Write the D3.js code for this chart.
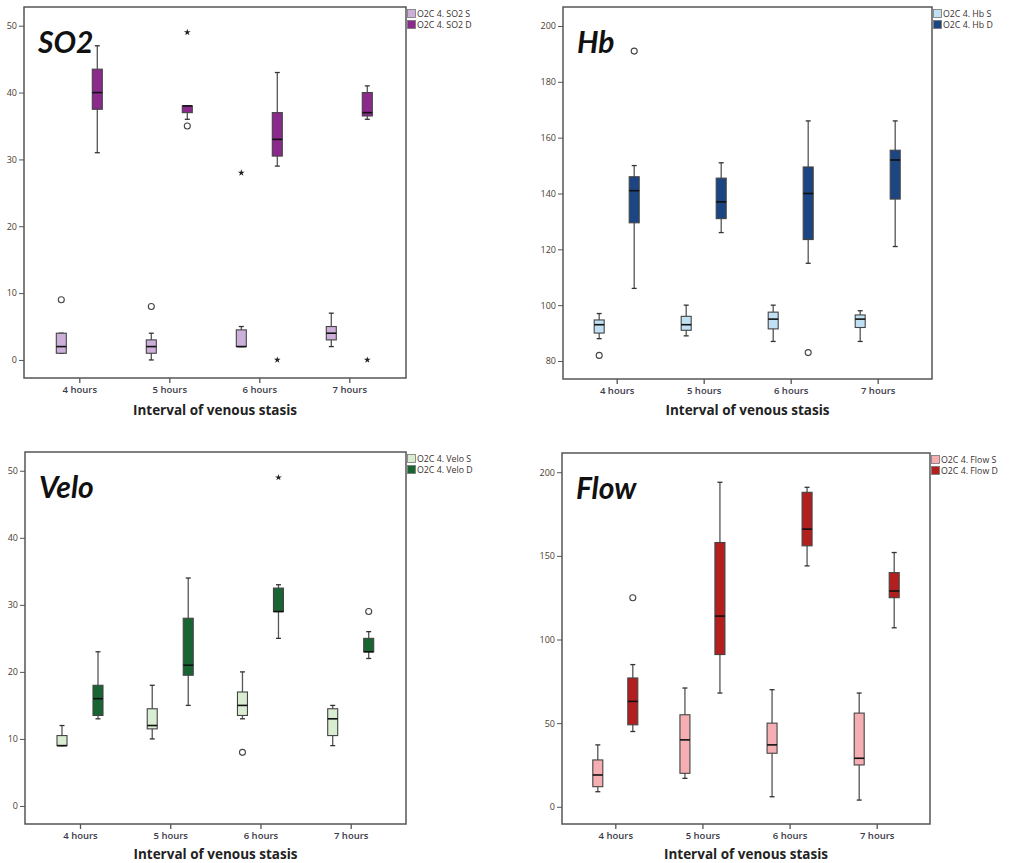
<!DOCTYPE html>
<html>
<head>
<meta charset="utf-8">
<script src="https://cdn.jsdelivr.net/npm/d3@7"></script>
<style>
  body { margin: 0; background: #fff; }
  text { font-family: "Open Sans", "DejaVu Sans", sans-serif; }
</style>
</head>
<body>
<div id="mainwindow"></div>
<script>
// boxplot stats per hour: [whisker low, q1, median, q3, whisker high]
const hours = ["4 hours", "5 hours", "6 hours", "7 hours"];

const so2S = [[1, 1, 2, 4, 4], [0, 1, 2, 3, 4], [2, 2, 2, 4.5, 5], [2, 3, 4, 5, 7]];
const so2D = [[31, 37.5, 40, 43.5, 47], [36, 37, 38, 38, 38], [29, 30.5, 33, 37, 43], [36, 36.5, 37, 40, 41]];
const so2Out = [["4 hours", "S", 9, "o"], ["5 hours", "S", 8, "o"], ["6 hours", "S", 28, "*"],
  ["5 hours", "D", 35, "o"], ["5 hours", "D", 49, "*"], ["6 hours", "D", 0, "*"], ["7 hours", "D", 0, "*"]];

const hbS = [[88, 90, 93, 94.7, 97], [89, 91, 93, 96, 100], [87, 91.5, 95, 97.5, 100], [87, 92, 95, 96.5, 98]];
const hbD = [[106, 129.5, 141, 146, 150], [126, 131, 137, 145.5, 151], [115, 123.5, 140, 149.5, 166], [121, 138, 152, 155.5, 166]];
const hbOut = [["4 hours", "S", 82, "o"], ["4 hours", "D", 191, "o"], ["6 hours", "D", 83, "o"]];

const veloS = [[9, 9, 9, 10.5, 12], [10, 11.5, 12, 14.5, 18], [13, 13.5, 15, 17, 20], [9, 10.5, 13, 14.5, 15]];
const veloD = [[13, 13.5, 16, 18, 23], [15, 19.5, 21, 28, 34], [25, 29, 29, 32.5, 33], [22, 23, 23, 25, 26]];
const veloOut = [["6 hours", "S", 8, "o"], ["6 hours", "D", 49, "*"], ["7 hours", "D", 29, "o"]];

const flowS = [[9, 12, 19, 28, 37], [17, 20, 40, 55, 71], [6, 32, 37, 50, 70], [4, 25, 29, 56, 68]];
const flowD = [[45, 49, 63, 77, 85], [68, 91, 114, 158, 194], [144, 156, 166, 188, 191], [107, 125, 129, 140, 152]];
const flowOut = [["4 hours", "D", 125, "o"]];

const so2Ticks = [0, 10, 20, 30, 40, 50];
const hbTicks = [80, 100, 120, 140, 160, 180, 200];
const veloTicks = [0, 10, 20, 30, 40, 50];
const flowTicks = [0, 50, 100, 150, 200];

const xTitle = "Interval of venous stasis";

// panel layout (frame in px, y domain = values at frame bottom/top)
const panels = [
  { name: "SO2", S: so2S, D: so2D, out: so2Out, ticks: so2Ticks, yDom: [-2.7, 52.8],
    frame: [24, 406, 7, 378], xr: [79.3, 349.3], off: 18, titleDy: 37,
    legend: ["O2C 4. SO2 S", "O2C 4. SO2 D"], colors: ["#cdb0d9", "#8b2a8c"] },
  { name: "Hb", S: hbS, D: hbD, out: hbOut, ticks: hbTicks, yDom: [73.55, 206.8],
    frame: [563, 932, 7, 379], xr: [616.7, 877.7], off: 17.5, titleDy: 36,
    legend: ["O2C 4. Hb S", "O2C 4. Hb D"], colors: ["#c2e0f4", "#1b4683"] },
  { name: "Velo", S: veloS, D: veloD, out: veloOut, ticks: veloTicks, yDom: [-2.69, 52.8],
    frame: [25, 406, 452, 824], xr: [80, 350.7], off: 18, titleDy: 35,
    legend: ["O2C 4. Velo S", "O2C 4. Velo D"], colors: ["#d9edd2", "#196433"] },
  { name: "Flow", S: flowS, D: flowD, out: flowOut, ticks: flowTicks, yDom: [-10.3, 211.5],
    frame: [562, 930, 453, 824], xr: [615.3, 876.7], off: 17.5, titleDy: 35,
    legend: ["O2C 4. Flow S", "O2C 4. Flow D"], colors: ["#f5aeb1", "#b31f1f"] }
];

const svg = d3.select("#mainwindow").append("svg")
  .attr("width", 1009).attr("height", 863);

panels.forEach(function (p) {
  const [x0, x1, y0, y1] = p.frame;
  const g = svg.append("g");
  const y = d3.scaleLinear().domain(p.yDom).range([y1, y0]);
  const x = d3.scalePoint().domain(hours).range(p.xr);
  const boxW = 10;

  // frame
  g.append("rect").attr("x", x0).attr("y", y0).attr("width", x1 - x0).attr("height", y1 - y0)
    .attr("fill", "none").attr("stroke", "#555").attr("stroke-width", 1.5);

  // y axis
  const yAxis = g.append("g").attr("transform", `translate(${x0},0)`)
    .call(d3.axisLeft(y).tickValues(p.ticks).tickSize(5).tickPadding(2));
  yAxis.select(".domain").remove();
  yAxis.selectAll("line").attr("stroke", "#555");
  yAxis.selectAll("text").attr("font-size", 9).attr("fill", "#4a3c30");

  // x axis
  const xAxis = g.append("g").attr("transform", `translate(0,${y1})`)
    .call(d3.axisBottom(x).tickSize(5).tickPadding(3));
  xAxis.select(".domain").remove();
  xAxis.selectAll("line").attr("stroke", "#555").attr("stroke-width", 1.3);
  xAxis.selectAll("text").attr("font-size", 9.5).attr("font-weight", 600).attr("fill", "#3a3a4a");

  g.append("text").attr("x", (x0 + x1) / 2).attr("y", y1 + p.titleDy)
    .attr("text-anchor", "middle").attr("font-size", 13.5).attr("font-weight", "bold")
    .attr("fill", "#222").text(xTitle);

  // big label
  g.append("text").attr("x", x0 + 14).attr("y", y0 + 46)
    .style("font-family", "Lato, 'Open Sans', sans-serif")
    .attr("font-size", 30).attr("font-weight", "bold").attr("font-style", "italic")
    .attr("fill", "#111").text(p.name);

  // boxes
  [["S", p.S, -p.off, p.colors[0]], ["D", p.D, p.off, p.colors[1]]].forEach(function (s) {
    const [key, stats, off, col] = s;
    stats.forEach(function (d, i) {
      const cx = x(hours[i]) + off;
      const [lo, q1, med, q3, hi] = d;
      g.append("line").attr("x1", cx).attr("x2", cx).attr("y1", y(hi)).attr("y2", y(lo))
        .attr("stroke", "#555").attr("stroke-width", 1.3);
      [lo, hi].forEach(function (v) {
        g.append("line").attr("x1", cx - 2.5).attr("x2", cx + 2.5).attr("y1", y(v)).attr("y2", y(v))
          .attr("stroke", "#333").attr("stroke-width", 1.3);
      });
      g.append("rect").attr("x", cx - boxW / 2).attr("width", boxW)
        .attr("y", y(q3)).attr("height", Math.max(y(q1) - y(q3), 1))
        .attr("fill", col).attr("stroke", "#444").attr("stroke-width", 1.1);
      g.append("line").attr("x1", cx - boxW / 2).attr("x2", cx + boxW / 2).attr("y1", y(med)).attr("y2", y(med))
        .attr("stroke", "#111").attr("stroke-width", 1.6);
    });
  });

  // outliers (o) and extremes (*)
  p.out.forEach(function (o) {
    const cx = x(o[0]) + (o[1] === "S" ? -p.off : p.off);
    if (o[3] === "o") {
      g.append("circle").attr("cx", cx).attr("cy", y(o[2])).attr("r", 3)
        .attr("fill", "none").attr("stroke", "#444").attr("stroke-width", 1.1);
    } else {
      g.append("path").attr("d", d3.symbol(d3.symbolStar, 14)())
        .attr("transform", `translate(${cx},${y(o[2])})`).attr("fill", "#222");
    }
  });

  // legend
  p.legend.forEach(function (l, i) {
    const ly = y0 + 2.5 + i * 11;
    g.append("rect").attr("x", x1 + 1.5).attr("y", ly).attr("width", 8).attr("height", 8)
      .attr("fill", p.colors[i]).attr("stroke", "#777").attr("stroke-width", 0.8);
    g.append("text").attr("x", x1 + 11).attr("y", ly + 7.5).attr("font-size", 8.8)
      .attr("fill", "#3a3030").text(l);
  });
});
</script>
</body>
</html>
